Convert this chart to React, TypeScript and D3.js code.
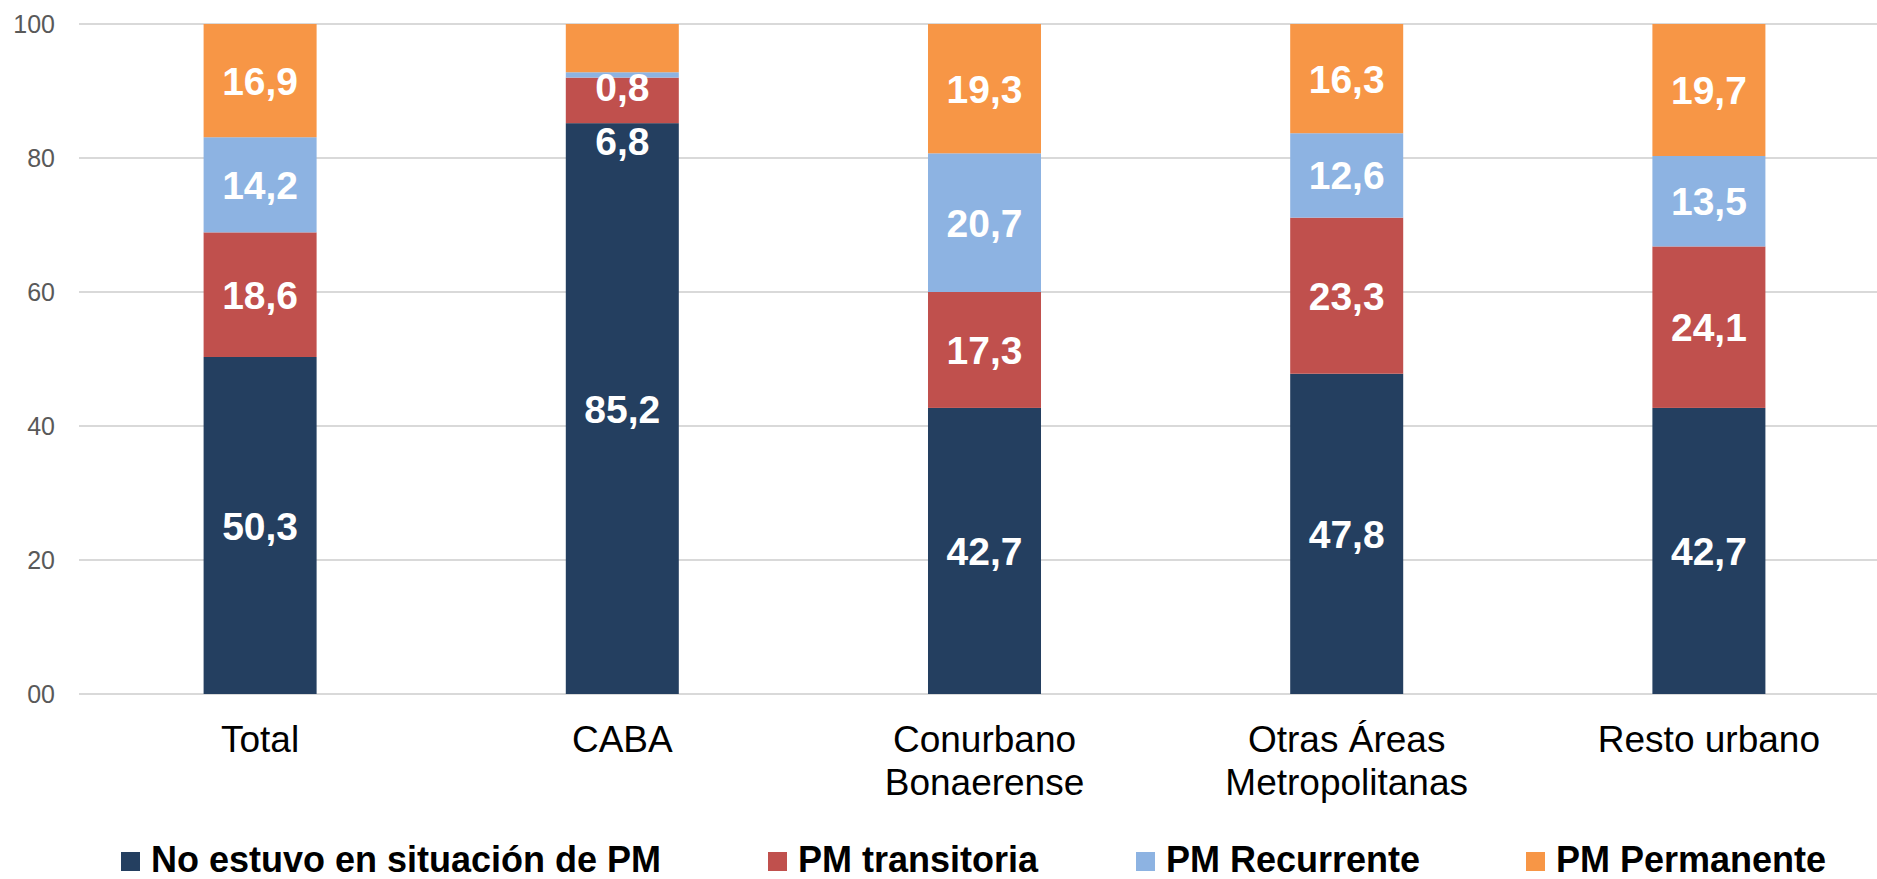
import { useEffect } from "react";
import * as d3 from "d3";

// categories (x axis), split in lines as they appear under the bars
const categories = ["Total", "CABA", "Conurbano Bonaerense", "Otras Áreas Metropolitanas", "Resto urbano"];
const categoryLines = [["Total"], ["CABA"], ["Conurbano", "Bonaerense"], ["Otras Áreas", "Metropolitanas"], ["Resto urbano"]];

// series, bottom to top
const seriesNames = ["No estuvo en situación de PM", "PM transitoria", "PM Recurrente", "PM Permanente"];
const noEstuvo = [50.3, 85.2, 42.7, 47.8, 42.7];
const transitoria = [18.6, 6.8, 17.3, 23.3, 24.1];
const recurrente = [14.2, 0.8, 20.7, 12.6, 13.5];
const permanente = [16.9, 7.2, 19.3, 16.3, 19.7];
const seriesValues = [noEstuvo, transitoria, recurrente, permanente];

const yTicks = [0, 20, 40, 60, 80, 100];
const yTickLabels = ["00", "20", "40", "60", "80", "100"];

const colors = ["#243F60", "#C0504D", "#8DB3E2", "#F79646"];

// CABA labels were moved by hand in the original (in value units), the 7,2 has no label
const labelNudge: Record<string, number> = { "1-1": -6.1, "1-2": -1.8 };
const hiddenLabels = ["1-3"];

const W = 1877;
const H = 879;
const FONT = "'Liberation Sans', Arial, sans-serif";

export default function App() {
  useEffect(() => {
    document.body.style.margin = "0";
  }, []);

  const x = d3.scaleBand<string>().domain(categories).range([79, 1890]).paddingInner(0.688).paddingOuter(0.344);
  const y = d3.scaleLinear().domain([0, 100]).range([694, 24]);

  const stacked = categories.map((_, ci) => {
    let acc = 0;
    return seriesValues.map((vals) => {
      const y0 = acc;
      acc += vals[ci];
      return { y0, y1: acc, v: vals[ci] };
    });
  });

  const fmt = (v: number) => v.toFixed(1).replace(".", ",");

  const legendX = [121, 768, 1136, 1526];

  return (
    <svg width={W} height={H} style={{ display: "block" }} fontFamily={FONT}>
      <rect width={W} height={H} fill="#fff" />
      {yTicks.map((t, i) => (
        <g key={t}>
          <line x1={79} x2={W} y1={y(t)} y2={y(t)} stroke="#D9D9D9" strokeWidth={2} />
          <text x={55} y={y(t)} dy="0.35em" textAnchor="end" fontSize={25} fill="#595959">
            {yTickLabels[i]}
          </text>
        </g>
      ))}
      {categories.map((c, ci) => (
        <g key={c}>
          {stacked[ci].map((s, si) => (
            <rect
              key={si}
              x={x(c)}
              width={x.bandwidth()}
              y={y(s.y1)}
              height={y(s.y0) - y(s.y1)}
              fill={colors[si]}
            />
          ))}
          {stacked[ci].map((s, si) => {
            const key = `${ci}-${si}`;
            if (hiddenLabels.includes(key)) return null;
            const mid = (s.y0 + s.y1) / 2 + (labelNudge[key] ?? 0);
            return (
              <text
                key={"l" + si}
                x={x(c)! + x.bandwidth() / 2}
                y={y(mid)}
                dy="0.36em"
                textAnchor="middle"
                fontSize={39}
                fontWeight="bold"
                fill="#fff"
              >
                {fmt(s.v)}
              </text>
            );
          })}
          <text x={x(c)! + x.bandwidth() / 2} y={752} textAnchor="middle" fontSize={37} fill="#000">
            {categoryLines[ci].map((ln, li) => (
              <tspan key={li} x={x(c)! + x.bandwidth() / 2} dy={li === 0 ? 0 : 43}>
                {ln}
              </tspan>
            ))}
          </text>
        </g>
      ))}
      {seriesNames.map((n, i) => (
        <g key={n}>
          <rect x={legendX[i]} y={852} width={19} height={19} fill={colors[i]} />
          <text x={legendX[i] + 30} y={872} fontSize={36} fontWeight="bold" fill="#000">
            {n}
          </text>
        </g>
      ))}
    </svg>
  );
}
